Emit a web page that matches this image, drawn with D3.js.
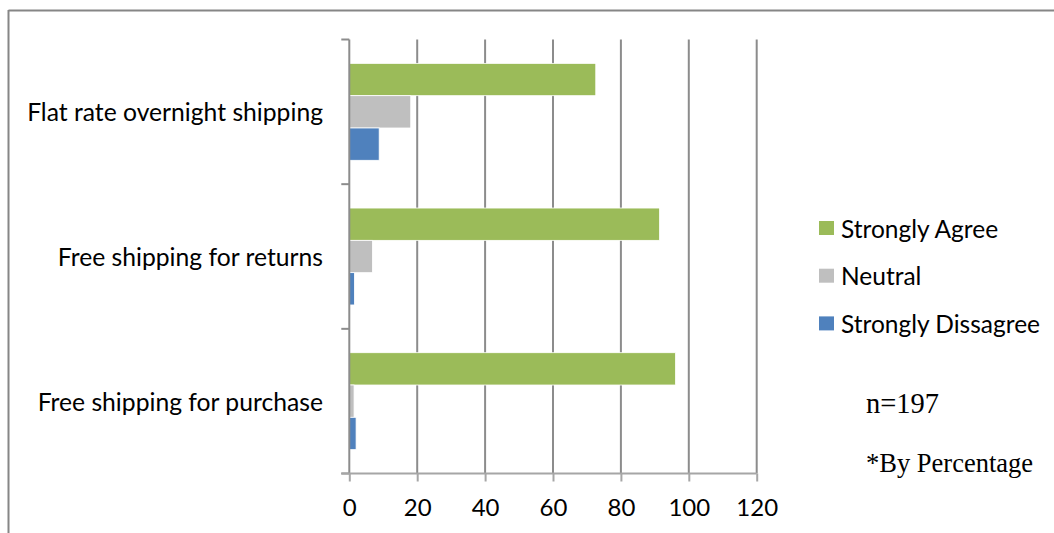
<!DOCTYPE html>
<html>
<head>
<meta charset="utf-8">
<script src="https://cdn.jsdelivr.net/npm/d3@7"></script>
<style>
  html, body { margin: 0; padding: 0; background: #fff; }
  svg { display: block; }
</style>
</head>
<body>
<svg id="chart" width="1054" height="533"></svg>
<script>
// Survey categories, listed top to bottom
const categories = [
  "Flat rate overnight shipping",
  "Free shipping for returns",
  "Free shipping for purchase"
];
// Response series (percent of respondents)
const seriesNames = ["Strongly Agree", "Neutral", "Strongly Dissagree"];
const strongAgree = [72.6, 91.4, 96.1];
const neutral = [18.1, 6.8, 1.4];
const strongDisagree = [8.8, 1.5, 2.0];
const seriesColors = ["#9bbb59", "#bfbfbf", "#4f81bd"];
const xTicks = [0, 20, 40, 60, 80, 100, 120];
const notes = ["n=197", "*By Percentage"];

const seriesValues = [strongAgree, neutral, strongDisagree];

const svg = d3.select("#chart");
const uiFont = "Lato, 'Open Sans', 'Liberation Sans', sans-serif";

// Chart frame (top and left edges)
svg.append("line").attr("x1", 8.5).attr("x2", 1054).attr("y1", 10.5).attr("y2", 10.5)
  .attr("stroke", "#868686").attr("stroke-width", 2);
svg.append("line").attr("x1", 8.5).attr("x2", 8.5).attr("y1", 10).attr("y2", 533)
  .attr("stroke", "#868686").attr("stroke-width", 2);

const plot = { left: 349.3, right: 756.7, top: 39.5, bottom: 473.5 };

const x = d3.scaleLinear().domain([0, 120]).range([plot.left, plot.right]);
const y = d3.scaleBand().domain(categories).range([plot.top, plot.bottom])
  .paddingInner(0.33).paddingOuter(0.165);
const ySeries = d3.scaleBand().domain(seriesNames).range([0, y.bandwidth()]);

// Vertical gridlines
svg.append("g")
  .selectAll("line")
  .data(xTicks.filter(d => d > 0))
  .join("line")
  .attr("x1", d => x(d)).attr("x2", d => x(d))
  .attr("y1", plot.top).attr("y2", plot.bottom)
  .attr("stroke", "#8c8c8c").attr("stroke-width", 2);

// Bars
const groups = svg.append("g")
  .selectAll("g")
  .data(categories)
  .join("g")
  .attr("transform", d => `translate(0,${y(d)})`);

groups.selectAll("rect")
  .data((c, i) => seriesNames.map((s, j) => ({ s, v: seriesValues[j][i], color: seriesColors[j] })))
  .join("rect")
  .attr("x", x(0))
  .attr("y", d => ySeries(d.s))
  .attr("width", d => x(d.v) - x(0))
  .attr("height", ySeries.bandwidth())
  .attr("fill", d => d.color)
  .attr("stroke", "#ffffff")
  .attr("stroke-width", 0.8);

// Category axis
const yAxisG = svg.append("g");
yAxisG.append("line")
  .attr("x1", plot.left).attr("x2", plot.left)
  .attr("y1", plot.top).attr("y2", plot.bottom)
  .attr("stroke", "#8c8c8c").attr("stroke-width", 2);
const boundaries = categories.map(c => y(c) - y.step() * y.paddingInner() / 2).concat([plot.bottom]);
yAxisG.selectAll("line.tick")
  .data(boundaries)
  .join("line")
  .attr("class", "tick")
  .attr("x1", plot.left - 8).attr("x2", plot.left)
  .attr("y1", d => d).attr("y2", d => d)
  .attr("stroke", "#8c8c8c").attr("stroke-width", 2);
yAxisG.selectAll("text")
  .data(categories)
  .join("text")
  .attr("x", 323)
  .attr("y", d => y(d) + y.bandwidth() / 2)
  .attr("text-anchor", "end")
  .attr("dominant-baseline", "central")
  .attr("font-family", uiFont)
  .attr("font-size", 24.7)
  .attr("fill", "#000")
  .text(d => d);

// Value axis
const xAxis = d3.axisBottom(x).tickValues(xTicks).tickSize(8).tickPadding(17);
const xAxisG = svg.append("g")
  .attr("transform", `translate(0,${plot.bottom})`)
  .call(xAxis);
xAxisG.select(".domain")
  .attr("d", `M${plot.left - 8},0H${plot.right}`)
  .attr("stroke", "#a6a6a6").attr("stroke-width", 2);
xAxisG.selectAll(".tick line").attr("stroke", "#a6a6a6").attr("stroke-width", 2);
xAxisG.selectAll(".tick text")
  .attr("font-family", uiFont)
  .attr("font-size", 24)
  .attr("fill", "#000");

// Legend
const legend = svg.append("g").attr("transform", "translate(819,221)");
const rows = legend.selectAll("g")
  .data(seriesNames)
  .join("g")
  .attr("transform", (d, i) => `translate(0,${i * 47.7})`);
rows.append("rect")
  .attr("width", 15).attr("height", 14)
  .attr("fill", (d, i) => seriesColors[i]);
rows.append("text")
  .attr("x", 22).attr("y", 7)
  .attr("dominant-baseline", "central")
  .attr("font-family", uiFont)
  .attr("font-size", 24.5)
  .attr("fill", "#000")
  .text(d => d);

// Sample size and unit notes
const noteSizes = [28.5, 26.5];
svg.append("g")
  .selectAll("text")
  .data(notes)
  .join("text")
  .attr("x", 866)
  .attr("y", (d, i) => 412.5 + i * 59)
  .attr("font-family", "'Liberation Serif', 'Times New Roman', serif")
  .attr("font-size", (d, i) => noteSizes[i])
  .attr("fill", "#000")
  .text(d => d);
</script>
</body>
</html>
